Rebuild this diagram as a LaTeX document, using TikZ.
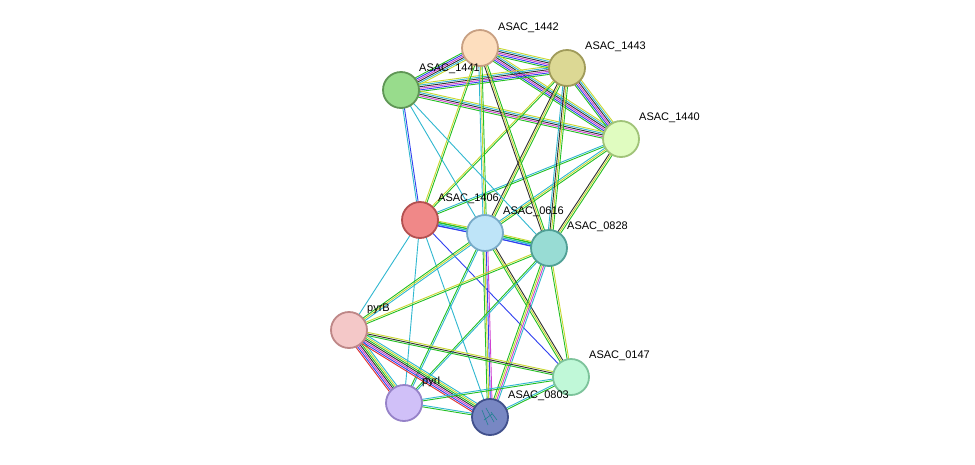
\documentclass[tikz,border=0pt]{standalone}
\usepackage{fontspec}
\setmainfont{Liberation Sans}
\usetikzlibrary{calc}
\definecolor{cG}{HTML}{22C022}
\definecolor{cB}{HTML}{3040F0}
\definecolor{cK}{HTML}{303030}
\definecolor{cM}{HTML}{D040D0}
\definecolor{cC}{HTML}{30B8D0}
\definecolor{cY}{HTML}{C8D830}
\definecolor{cR}{HTML}{E03030}
\newcommand{\E}[3]{%
  \foreach \c [count=\i] in {#3} {\xdef\nn{\i}}%
  \foreach \c [count=\i] in {#3} {%
    \pgfmathsetmacro\o{(\i-1-(\nn-1)/2)*1.6}%
    \draw[\c,line width=0.9pt] ($(#1)!\o pt!90:(#2)$) -- ($(#2)!\o pt!-90:(#1)$);}}
\tikzset{prot/.style={circle,minimum size=36pt,inner sep=0,line width=1.8pt},
 lab/.style={font=\fontsize{11}{11}\selectfont,anchor=west,inner sep=0}}
\begin{document}
\begin{tikzpicture}[x=1pt,y=-1pt]
\useasboundingbox[fill=white] (0,0) rectangle (975,464);
\coordinate (n1442) at (480,48);
\coordinate (n1443) at (567,68);
\coordinate (n1441) at (401,90);
\coordinate (n1440) at (621,139);
\coordinate (n1406) at (420,220);
\coordinate (n0616) at (485,233);
\coordinate (n0828) at (549,248);
\coordinate (pyrB) at (349,330);
\coordinate (n0147) at (571,377);
\coordinate (pyrI) at (404,403);
\coordinate (n0803) at (490,417);
% top cluster
\E{n1442}{n1443}{cG,cB,cM,cK,cC,cY}
\E{n1442}{n1441}{cG,cB,cM,cK,cC,cY}
\E{n1442}{n1440}{cG,cB,cM,cK,cC,cY}
\E{n1441}{n1443}{cG,cB,cM,cK,cC,cY}
\E{n1441}{n1440}{cG,cM,cK,cC,cY}
\E{n1443}{n1440}{cG,cB,cM,cK,cC,cY}
% 1406
\E{n1406}{n1441}{cB,cC}
\E{n1406}{n1442}{cG,cY}
\E{n1406}{n1443}{cG,cY}
\E{n1406}{n1440}{cG,cC}
\E{n1406}{n0616}{cB,cC,cG,cY}
\E{n1406}{n0828}{cB,cC,cG}
\E{n1406}{pyrB}{cC}
\E{n1406}{pyrI}{cC}
\E{n1406}{n0803}{cC}
\E{n1406}{n0147}{cB}
% 0616
\E{n0616}{n1441}{cC}
\E{n0616}{n1442}{cG,cY,cC}
\E{n0616}{n1443}{cG,cY,cK}
\E{n0616}{n1440}{cG,cY,cC}
\E{n0616}{n0828}{cB,cC,cG,cY}
\E{n0616}{pyrB}{cG,cY,cC}
\E{n0616}{pyrI}{cG,cC}
\E{n0616}{n0803}{cG,cY,cB,cM}
\E{n0616}{n0147}{cG,cY,cK}
% 0828
\E{n0828}{n1441}{cC}
\E{n0828}{n1442}{cG,cY,cK}
\E{n0828}{n1443}{cG,cY,cK,cC}
\E{n0828}{n1440}{cG,cY,cK}
\E{n0828}{pyrB}{cY,cG}
\E{n0828}{pyrI}{cG,cC}
\E{n0828}{n0803}{cG,cY,cM,cC}
\E{n0828}{n0147}{cG,cY}
% bottom
\E{pyrB}{pyrI}{cR,cB,cM,cK,cG,cY,cC}
\E{pyrB}{n0803}{cR,cB,cM,cK,cG,cY,cC}
\E{pyrB}{n0147}{cG,cK,cY}
\E{pyrI}{n0803}{cG,cC}
\E{pyrI}{n0147}{cG,cC}
\E{n0803}{n0147}{cG,cC}
% nodes
\node[prot,fill={rgb,255:red,253;green,222;blue,190},draw={rgb,255:red,200;green,160;blue,130}] (a) at (n1442) {};
\node[prot,fill={rgb,255:red,220;green,216;blue,148},draw={rgb,255:red,160;green,155;blue,90}] (b) at (n1443) {};
\node[prot,fill={rgb,255:red,152;green,220;blue,140},draw={rgb,255:red,95;green,150;blue,85}] (c) at (n1441) {};
\node[prot,fill={rgb,255:red,224;green,252;blue,192},draw={rgb,255:red,160;green,195;blue,120}] (d) at (n1440) {};
\node[prot,fill={rgb,255:red,240;green,136;blue,136},draw={rgb,255:red,180;green,80;blue,80}] (e) at (n1406) {};
\node[prot,fill={rgb,255:red,190;green,228;blue,248},draw={rgb,255:red,120;green,170;blue,200}] (f) at (n0616) {};
\node[prot,fill={rgb,255:red,152;green,220;blue,212},draw={rgb,255:red,80;green,160;blue,150}] (g) at (n0828) {};
\node[prot,fill={rgb,255:red,244;green,200;blue,200},draw={rgb,255:red,190;green,135;blue,135}] (h) at (pyrB) {};
\node[prot,fill={rgb,255:red,192;green,248;blue,216},draw={rgb,255:red,125;green,195;blue,155}] (i) at (n0147) {};
\node[prot,fill={rgb,255:red,208;green,192;blue,248},draw={rgb,255:red,150;green,130;blue,200}] (j) at (pyrI) {};
\node[prot,fill={rgb,255:red,120;green,135;blue,195},draw={rgb,255:red,65;green,80;blue,140}] (k) at (n0803) {};
\draw[cC!70!black,line width=0.6pt] (482,410)--(488,425) (486,408)--(494,422) (491,412)--(497,420) (484,420)--(492,414);
% labels
\node[lab] at (498,28) {ASAC\_1442};
\node[lab] at (585,47) {ASAC\_1443};
\node[lab] at (419,69) {ASAC\_1441};
\node[lab] at (639,118) {ASAC\_1440};
\node[lab] at (438,199) {ASAC\_1406};
\node[lab] at (503,212) {ASAC\_0616};
\node[lab] at (567,227) {ASAC\_0828};
\node[lab] at (367,309) {pyrB};
\node[lab] at (589,356) {ASAC\_0147};
\node[lab] at (422,382) {pyrI};
\node[lab] at (508,396) {ASAC\_0803};
\end{tikzpicture}
\end{document}
